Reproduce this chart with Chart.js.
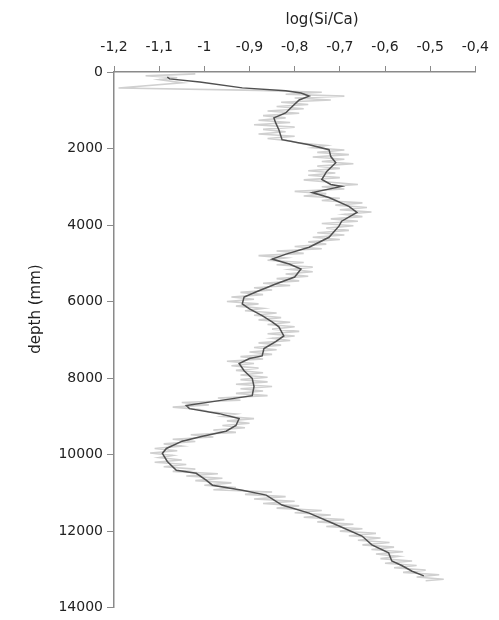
<!DOCTYPE html>
<html lang="en">
<head>
    <meta charset="UTF-8">
    <title>log(Si/Ca) vs depth</title>
    <script src="https://cdn.jsdelivr.net/npm/chart.js"></script>
    <style>
        body {
            margin: 0;
            padding: 0;
            background-color: white;
        }
        .chart-container {
            position: relative;
            width: 499px;
            height: 620px;
        }
    </style>
</head>
<body>
    <div class="chart-container">
        <canvas id="siCaChart"></canvas>
    </div>

    <script>
        // smoothed curve (dark line)
        const depthSmooth = [130, 180, 260, 415, 490, 550, 630, 730, 910, 1070, 1200, 1330, 1510, 1770, 1900, 2030, 2210, 2370, 2600, 2810, 2940, 2990, 3150, 3280, 3510, 3670, 3900, 4030, 4320, 4580, 4760, 4890, 5020, 5150, 5360, 5540, 5750, 5880, 6060, 6190, 6370, 6530, 6660, 6900, 7050, 7230, 7420, 7490, 7620, 7810, 8010, 8220, 8460, 8590, 8720, 8800, 8930, 9060, 9240, 9390, 9520, 9650, 9840, 9970, 10180, 10410, 10490, 10670, 10800, 10930, 11060, 11320, 11530, 11790, 12130, 12360, 12570, 12780, 12900, 13050, 13170];
        const siCaSmooth = [-1.082, -1.077, -1.010, -0.916, -0.820, -0.786, -0.768, -0.790, -0.806, -0.820, -0.846, -0.842, -0.835, -0.828, -0.768, -0.724, -0.720, -0.709, -0.729, -0.740, -0.720, -0.696, -0.761, -0.724, -0.680, -0.662, -0.696, -0.702, -0.724, -0.768, -0.819, -0.850, -0.812, -0.786, -0.800, -0.842, -0.886, -0.912, -0.916, -0.900, -0.872, -0.850, -0.835, -0.824, -0.842, -0.868, -0.872, -0.900, -0.923, -0.912, -0.894, -0.890, -0.894, -0.967, -1.040, -1.033, -0.967, -0.923, -0.930, -0.952, -1.004, -1.049, -1.084, -1.093, -1.082, -1.062, -1.018, -0.996, -0.982, -0.916, -0.863, -0.828, -0.768, -0.717, -0.651, -0.629, -0.592, -0.585, -0.563, -0.540, -0.514];

        // raw measurements (light line)
        const depthRaw = [50, 100, 150, 200, 280, 420, 480, 530, 580, 630, 680, 730, 790, 850, 900, 960, 1020, 1080, 1140, 1200, 1260, 1320, 1380, 1440, 1500, 1560, 1620, 1680, 1740, 1800, 1860, 1920, 1980, 2040, 2100, 2160, 2220, 2280, 2340, 2400, 2460, 2520, 2580, 2640, 2700, 2760, 2820, 2880, 2940, 3000, 3060, 3120, 3180, 3240, 3300, 3360, 3420, 3480, 3540, 3600, 3660, 3720, 3780, 3840, 3900, 3960, 4020, 4080, 4140, 4200, 4260, 4320, 4380, 4440, 4500, 4560, 4620, 4680, 4740, 4800, 4860, 4920, 4980, 5040, 5100, 5160, 5220, 5280, 5340, 5400, 5460, 5520, 5580, 5640, 5700, 5760, 5820, 5880, 5940, 6000, 6060, 6120, 6180, 6240, 6300, 6360, 6420, 6480, 6540, 6600, 6660, 6720, 6780, 6840, 6900, 6960, 7020, 7080, 7140, 7200, 7260, 7320, 7380, 7440, 7500, 7560, 7620, 7680, 7740, 7800, 7860, 7920, 7980, 8040, 8100, 8160, 8220, 8280, 8340, 8400, 8460, 8520, 8580, 8640, 8700, 8760, 8820, 8880, 8940, 9000, 9060, 9120, 9180, 9240, 9300, 9360, 9420, 9480, 9540, 9600, 9660, 9720, 9780, 9840, 9900, 9960, 10020, 10080, 10140, 10200, 10260, 10320, 10380, 10440, 10500, 10560, 10620, 10680, 10740, 10800, 10860, 10920, 10980, 11040, 11100, 11160, 11220, 11280, 11340, 11400, 11460, 11520, 11580, 11640, 11700, 11760, 11820, 11880, 11940, 12000, 12060, 12120, 12180, 12240, 12300, 12360, 12420, 12480, 12540, 12600, 12660, 12720, 12780, 12840, 12900, 12960, 13020, 13080, 13140, 13200, 13260, 13300];
        const siCaRaw = [-1.02, -1.13, -1.06, -1.10, -1.05, -1.19, -0.88, -0.74, -0.82, -0.69, -0.80, -0.72, -0.83, -0.77, -0.84, -0.78, -0.86, -0.79, -0.87, -0.82, -0.88, -0.81, -0.89, -0.80, -0.87, -0.82, -0.88, -0.80, -0.86, -0.81, -0.79, -0.73, -0.76, -0.69, -0.75, -0.68, -0.76, -0.69, -0.74, -0.67, -0.75, -0.70, -0.77, -0.71, -0.77, -0.70, -0.78, -0.72, -0.66, -0.74, -0.69, -0.80, -0.73, -0.78, -0.70, -0.74, -0.65, -0.71, -0.64, -0.70, -0.63, -0.69, -0.65, -0.72, -0.66, -0.74, -0.67, -0.73, -0.68, -0.75, -0.69, -0.76, -0.70, -0.77, -0.73, -0.80, -0.74, -0.84, -0.78, -0.88, -0.82, -0.86, -0.78, -0.84, -0.76, -0.81, -0.76, -0.82, -0.77, -0.84, -0.79, -0.87, -0.81, -0.89, -0.85, -0.92, -0.87, -0.94, -0.89, -0.95, -0.88, -0.93, -0.87, -0.91, -0.84, -0.89, -0.83, -0.88, -0.81, -0.86, -0.80, -0.85, -0.79, -0.86, -0.80, -0.85, -0.81, -0.88, -0.83, -0.89, -0.84, -0.90, -0.85, -0.92, -0.87, -0.95, -0.89, -0.94, -0.88, -0.93, -0.87, -0.92, -0.86, -0.92, -0.86, -0.93, -0.85, -0.92, -0.87, -0.93, -0.86, -0.97, -0.92, -1.05, -0.99, -1.07, -1.01, -0.99, -0.93, -0.96, -0.89, -0.95, -0.90, -0.96, -0.91, -0.98, -0.93, -1.03, -0.98, -1.07, -1.02, -1.09, -1.05, -1.11, -1.06, -1.12, -1.07, -1.10, -1.05, -1.11, -1.04, -1.09, -1.02, -1.07, -0.97, -1.04, -0.96, -1.02, -0.94, -1.00, -0.93, -0.98, -0.85, -0.91, -0.82, -0.89, -0.80, -0.87, -0.79, -0.84, -0.74, -0.80, -0.72, -0.78, -0.69, -0.75, -0.67, -0.73, -0.65, -0.70, -0.62, -0.68, -0.61, -0.66, -0.59, -0.65, -0.58, -0.63, -0.56, -0.62, -0.57, -0.61, -0.54, -0.60, -0.53, -0.58, -0.51, -0.56, -0.48, -0.53, -0.47, -0.51];

        const xTickValues = [-1.2, -1.1, -1.0, -0.9, -0.8, -0.7, -0.6, -0.5, -0.4];
        const xTickLabels = ['-1,2', '-1,1', '-1', '-0,9', '-0,8', '-0,7', '-0,6', '-0,5', '-0,4'];
        const yTickValues = [0, 2000, 4000, 6000, 8000, 10000, 12000, 14000];
        const yTickLabels = ['0', '2000', '4000', '6000', '8000', '10000', '12000', '14000'];
        const xTitle = 'log(Si/Ca)';
        const yTitle = 'depth (mm)';

        const toPoints = (xs, ys) => ys.map((d, i) => ({ x: xs[i], y: d }));
        // look a tick label up by its value, so reversing an axis keeps them right
        const labelFor = (values, labels) => (value) => {
            const i = values.findIndex(v => Math.abs(v - value) < 1e-6);
            return i < 0 ? '' : labels[i];
        };

        const tickFont = { family: 'DejaVu Sans', size: 14 };
        const axisGray = '#8a8a8a';

        // axis titles drawn off-centre, as in the original
        const axisTitles = {
            id: 'axisTitles',
            afterDraw(chart) {
                const { ctx, chartArea } = chart;
                ctx.save();
                ctx.font = '15px "DejaVu Sans"';
                ctx.fillStyle = '#222';
                ctx.textAlign = 'center';
                ctx.textBaseline = 'middle';
                ctx.fillText(xTitle, chartArea.left + 208, chartArea.top - 52);
                ctx.translate(chartArea.left - 78, chartArea.top + 237);
                ctx.rotate(-Math.PI / 2);
                ctx.fillText(yTitle, 0, 0);
                ctx.restore();
            }
        };

        const ctx = document.getElementById('siCaChart').getContext('2d');
        new Chart(ctx, {
            type: 'scatter',
            data: {
                datasets: [
                    {
                        label: 'smoothed',
                        data: toPoints(siCaSmooth, depthSmooth),
                        showLine: true,
                        borderColor: '#505050',
                        borderWidth: 1.5,
                        pointRadius: 0,
                        tension: 0
                    },
                    {
                        label: 'raw',
                        data: toPoints(siCaRaw, depthRaw),
                        showLine: true,
                        borderColor: '#d0d0d0',
                        borderWidth: 1.6,
                        pointRadius: 0,
                        tension: 0
                    }
                ]
            },
            options: {
                responsive: true,
                maintainAspectRatio: false,
                animation: false,
                layout: {
                    padding: { top: 0, left: 0, right: 22, bottom: 10 }
                },
                plugins: {
                    legend: { display: false },
                    tooltip: { enabled: false }
                },
                scales: {
                    x: {
                        type: 'linear',
                        position: 'top',
                        min: -1.2,
                        max: -0.4,
                        afterFit: (scale) => { scale.height = 72; },
                        ticks: {
                            stepSize: 0.1,
                            font: tickFont,
                            color: '#222',
                            padding: 10,
                            maxRotation: 0,
                            callback: labelFor(xTickValues, xTickLabels)
                        },
                        grid: {
                            drawOnChartArea: false,
                            drawTicks: true,
                            tickLength: 6,
                            color: axisGray
                        },
                        border: { color: axisGray, width: 1.5 }
                    },
                    y: {
                        type: 'linear',
                        reverse: true,
                        min: 0,
                        max: 14000,
                        afterFit: (scale) => { scale.width = 114; },
                        ticks: {
                            stepSize: 2000,
                            font: tickFont,
                            color: '#222',
                            padding: 4,
                            callback: labelFor(yTickValues, yTickLabels)
                        },
                        grid: {
                            drawOnChartArea: false,
                            drawTicks: true,
                            tickLength: 7,
                            color: axisGray
                        },
                        border: { color: axisGray, width: 1.5 }
                    }
                }
            },
            plugins: [axisTitles]
        });
    </script>
</body>
</html>
